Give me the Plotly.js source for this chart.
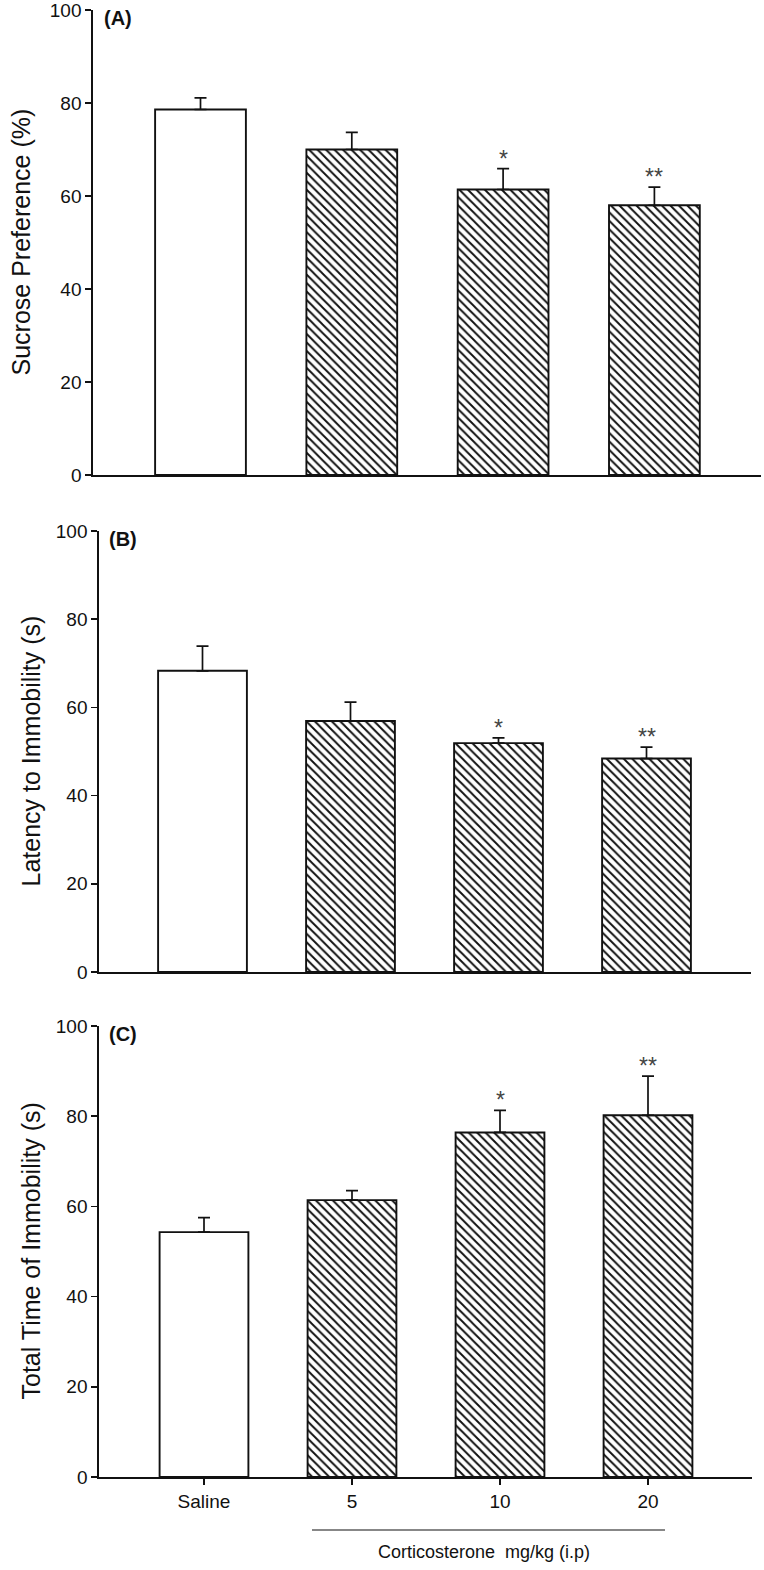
<!DOCTYPE html>
<html>
<head>
<meta charset="utf-8">
<script src="https://cdn.plot.ly/plotly-3.0.1.min.js"></script>
<style>
  html, body { margin: 0; padding: 0; background: #ffffff; }
  #chart { width: 764px; height: 1570px; }
</style>
</head>
<body>
<div id="chart"></div>
<script>
// ---------------- data ----------------
const categories = ['Saline', '5', '10', '20'];
const sucroseMean = [78.6, 70.0, 61.4, 58.0];
const sucroseSem = [2.5, 3.7, 4.5, 3.9];
const latencyMean = [68.3, 56.9, 51.9, 48.4];
const latencySem = [5.6, 4.3, 1.2, 2.6];
const immobilityMean = [54.3, 61.4, 76.4, 80.2];
const immobilitySem = [3.2, 2.1, 4.9, 8.7];
const significance = ['', '', '*', '**'];
const panelLabels = ['(A)', '(B)', '(C)'];
const yTitles = ['Sucrose Preference (%)', 'Latency to Immobility (s)', 'Total Time of Immobility (s)'];
const groupTitle = 'Corticosterone\u00a0\u00a0mg/kg (i.p)';
const yTicks = [0, 20, 40, 60, 80, 100];

// ---------------- layout helpers ----------------
const W = 764, H = 1570;
const FONT = 'Liberation Sans, Arial, Helvetica, sans-serif';
const px = v => v / W;
const py = v => 1 - v / H;

// pixel geometry of each panel
const panels = [
  {left: 93, right: 761, top: 10, bottom: 475, c0: 200.5, step: 151.3},
  {left: 99, right: 751, top: 531, bottom: 972, c0: 202.5, step: 148},
  {left: 99, right: 752, top: 1026, bottom: 1477, c0: 204, step: 148}
];
const means = [sucroseMean, latencyMean, immobilityMean];
const sems = [sucroseSem, latencySem, immobilitySem];

const shapesPattern = categories.map((c, i) => i === 0 ? '' : '\\');

const data = [];
const layout = {
  width: W, height: H,
  margin: {l: 0, r: 0, t: 0, b: 0},
  paper_bgcolor: '#ffffff',
  plot_bgcolor: 'rgba(0,0,0,0)',
  showlegend: false,
  font: {family: FONT, size: 18, color: '#111'},
  annotations: [],
  shapes: []
};

panels.forEach((p, k) => {
  const sfx = k === 0 ? '' : String(k + 1);
  data.push({
    type: 'bar',
    x: categories,
    y: means[k],
    xaxis: 'x' + sfx,
    yaxis: 'y' + sfx,
    width: 0.6,
    marker: {
      color: 'white',
      line: {color: '#111', width: 1.9},
      pattern: {shape: shapesPattern, fgcolor: '#111', bgcolor: 'white', size: 6, solidity: 0.32}
    },
    error_y: {
      type: 'data', symmetric: false,
      array: sems[k], arrayminus: sems[k].map(() => 0),
      color: '#111', thickness: 1.7, width: 6
    },
    hoverinfo: 'skip'
  });

  const isBottom = k === 2;
  layout['xaxis' + sfx] = {
    type: 'category',
    domain: [px(p.left), px(p.right)],
    range: [(p.left - p.c0) / p.step, (p.right - p.c0) / p.step],
    anchor: 'y' + sfx,
    showline: true, linecolor: '#111', linewidth: 1.7,
    showgrid: false, zeroline: false,
    ticks: isBottom ? 'outside' : '',
    ticklen: 6, tickwidth: 1.5, tickcolor: '#111',
    showticklabels: isBottom,
    ticklabeloverflow: 'allow',
    tickfont: {family: FONT, size: 19, color: '#111'},
    fixedrange: true
  };
  layout['yaxis' + sfx] = {
    domain: [py(p.bottom), py(p.top)],
    range: [0, 100],
    anchor: 'x' + sfx,
    tickvals: yTicks,
    showline: true, linecolor: '#111', linewidth: 1.7,
    showgrid: false, zeroline: false,
    ticks: 'outside', ticklen: 6, tickwidth: 1.5, tickcolor: '#111',
    ticklabeloverflow: 'allow',
    tickfont: {family: FONT, size: 19, color: '#111'},
    fixedrange: true
  };

  // y-axis title
  layout.annotations.push({
    xref: 'paper', yref: 'paper',
    x: px(k === 0 ? 20 : 30), y: py((p.top + p.bottom) / 2),
    text: yTitles[k], textangle: -90, showarrow: false,
    xanchor: 'center', yanchor: 'middle',
    font: {family: FONT, size: 25, color: '#111'}
  });
  // panel label
  layout.annotations.push({
    xref: 'paper', yref: 'paper',
    x: px(k === 0 ? 102 : 107), y: py(p.top + 8),
    text: '<b>' + panelLabels[k] + '</b>', showarrow: false,
    xanchor: 'left', yanchor: 'middle',
    font: {family: FONT, size: 20, color: '#111'}
  });
  // significance stars (x given as category index)
  categories.forEach((c, i) => {
    if (!significance[i]) return;
    layout.annotations.push({
      xref: 'x' + sfx, yref: 'y' + sfx,
      x: i, y: means[k][i] + sems[k][i],
      text: significance[i], showarrow: false,
      xanchor: 'center', yanchor: 'middle', yshift: 10,
      font: {family: FONT, size: 23, color: '#444'}
    });
  });
});

// group bracket under the dose labels
layout.shapes.push({
  type: 'line', xref: 'paper', yref: 'paper',
  x0: px(312), x1: px(665), y0: py(1530), y1: py(1530),
  line: {color: '#111', width: 1.2}
});
layout.annotations.push({
  xref: 'paper', yref: 'paper',
  x: px(484), y: py(1552),
  text: groupTitle, showarrow: false,
  xanchor: 'center', yanchor: 'middle',
  font: {family: FONT, size: 18, color: '#111'}
});

Plotly.newPlot('chart', data, layout, {staticPlot: true, displayModeBar: false});
</script>
</body>
</html>
